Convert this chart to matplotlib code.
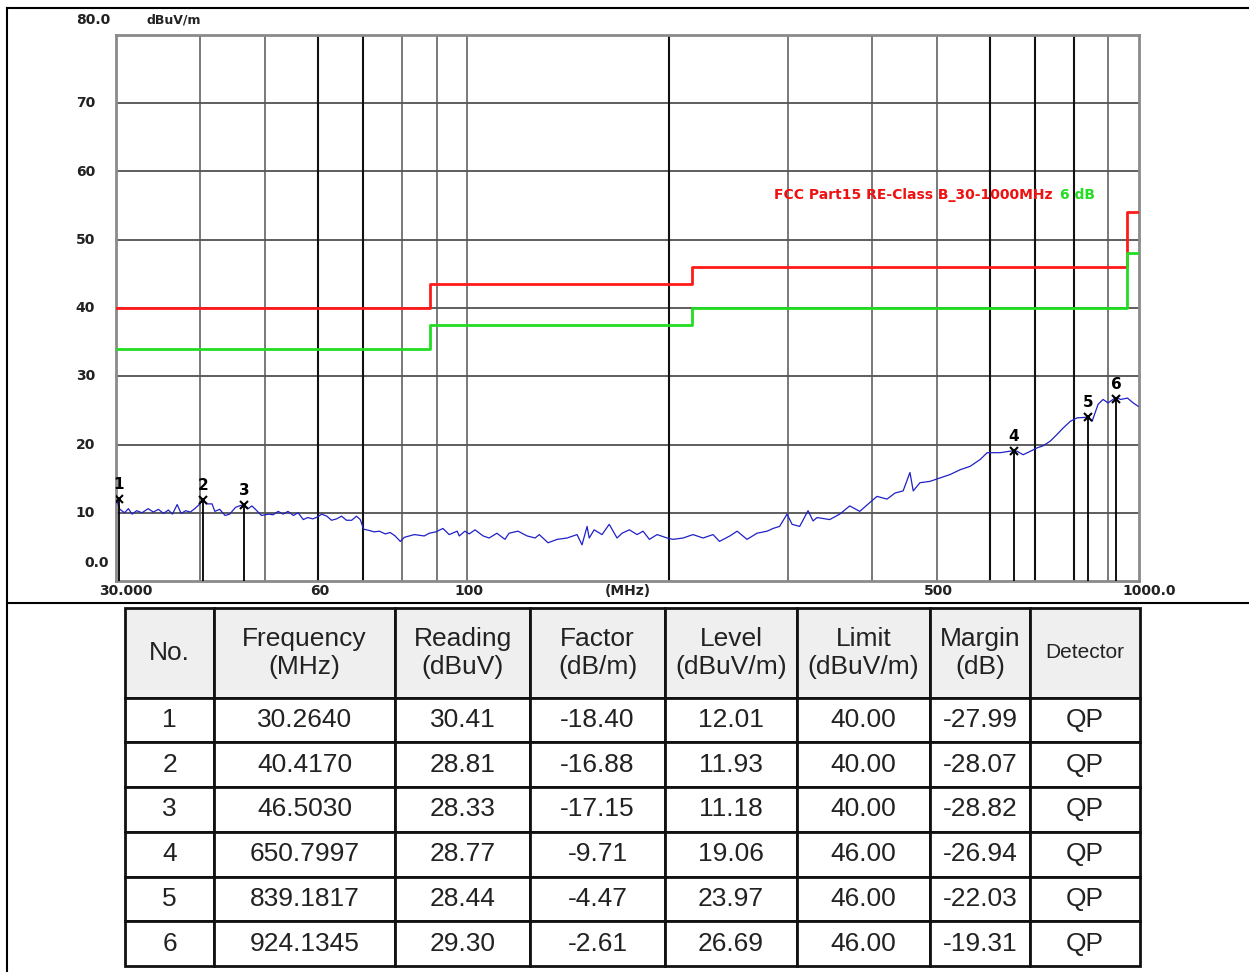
import numpy as np
import matplotlib.pyplot as plt
from matplotlib.lines import Line2D

# limit lines: FCC Part15 class B QP limit and the -6 dB line
limit_freq = [30, 88, 88, 216, 216, 960, 960, 1000]
limit_qp = [40, 40, 43.5, 43.5, 46, 46, 54, 54]
limit_margin = [34, 34, 37.5, 37.5, 40, 40, 48, 48]

# scan trace (MHz, dBuV/m)
trace_freq = [30.1, 30.4, 30.9, 31.3, 31.7, 32.2, 32.8, 33.5, 34.1, 34.7, 35.3, 35.9, 36.4, 37.0, 37.5,
              38.1, 38.7, 39.3, 39.9, 40.4, 40.9, 41.7, 42.1, 42.8, 43.6, 44.3, 45.2, 45.8, 46.5, 47.2,
              47.8, 48.5, 49.4, 50.6, 51.4, 52.3, 53.2, 54.1, 55.1, 56.0, 57.0, 57.9, 58.9, 59.9, 60.7,
              61.8, 62.8, 63.9, 65.0, 66.1, 67.3, 68.4, 69.3, 70.1, 71.5, 72.7, 74.0, 75.5, 76.8, 78.1,
              79.5, 80.6, 82.0, 83.4, 84.8, 86.3, 87.8, 89.8, 92.0, 94.0, 96.6, 97.3, 99.2, 100.7, 102.7,
              105.6, 107.8, 110.7, 113.8, 115.4, 119.0, 122.8, 126.2, 128.0, 131.9, 136.1, 140.8, 145.7,
              148.2, 150.8, 151.9, 154.5, 158.7, 162.7, 167.1, 170.0, 174.3, 179.0, 182.7, 186.7, 191.7,
              198.4, 202.5, 209.6, 216.8, 224.4, 232.2, 237.4, 246.0, 252.2, 260.9, 270.0, 279.5, 285.3,
              291.7, 299.3, 304.5, 312.5, 321.6, 327.2, 331.7, 346.4, 358.5, 371.0, 384.0, 397.5, 407.4,
              421.6, 433.5, 445.5, 456.1, 461.2, 472.0, 488.5, 505.6, 523.3, 541.6, 560.5, 580.1, 594.3,
              606.4, 621.4, 650.8, 658.6, 672.1, 688.9, 705.0, 719.7, 737.9, 755.4, 770.8, 790.4, 808.9,
              839.2, 851.5, 869.2, 884.2, 899.5, 924.1, 938.7, 961.2, 980.2, 997.0]
trace_level = [11.8, 10.5, 10.0, 10.6, 9.8, 10.3, 10.0, 10.6, 10.1, 10.5, 9.9, 10.4, 9.8, 11.2, 9.9,
               10.3, 10.1, 10.6, 11.2, 11.9, 11.3, 11.3, 10.2, 10.5, 9.6, 9.8, 10.8, 11.0, 11.2, 10.6,
               11.0, 10.4, 9.6, 9.8, 9.7, 10.2, 9.8, 10.2, 9.6, 10.0, 9.0, 9.3, 9.1, 9.4, 9.8,
               9.5, 8.9, 9.1, 9.5, 8.9, 8.9, 9.5, 9.0, 7.6, 7.4, 7.2, 7.3, 6.9, 7.1, 6.6,
               5.8, 6.4, 6.6, 6.8, 6.7, 6.6, 7.0, 7.2, 7.7, 6.8, 7.3, 6.6, 7.3, 6.9, 7.5,
               6.6, 6.3, 7.0, 6.1, 7.0, 7.3, 6.6, 6.3, 6.8, 5.6, 6.1, 6.3, 6.8,
               5.3, 8.0, 6.3, 7.5, 6.8, 8.3, 6.3, 7.0, 7.5, 6.8, 7.3, 6.1, 6.8,
               6.3, 6.1, 6.3, 6.8, 6.3, 6.8, 5.8, 6.6, 7.3, 6.1, 7.0, 7.3, 7.7,
               8.0, 9.8, 8.3, 8.0, 10.3, 8.8, 9.3, 9.0, 9.8, 11.0, 10.2, 11.5, 12.4,
               12.0, 12.9, 13.2, 15.9, 13.2, 14.4, 14.6, 15.1, 15.6, 16.3, 16.8, 17.8, 18.8,
               18.8, 18.8, 19.1, 19.0, 18.5, 19.0, 19.5, 19.8, 20.5, 21.5, 22.4, 23.4, 23.9,
               24.0, 23.4, 25.9, 26.6, 26.1, 26.9, 26.6, 26.8, 26.1, 25.6]

# final QP measurements
mk_no = [1, 2, 3, 4, 5, 6]
mk_freq = [30.2640, 40.4170, 46.5030, 650.7997, 839.1817, 924.1345]
mk_reading = [30.41, 28.81, 28.33, 28.77, 28.44, 29.30]
mk_factor = [-18.40, -16.88, -17.15, -9.71, -4.47, -2.61]
mk_level = [12.01, 11.93, 11.18, 19.06, 23.97, 26.69]
mk_limit = [40.00, 40.00, 40.00, 46.00, 46.00, 46.00]
mk_margin = [-27.99, -28.07, -28.82, -26.94, -22.03, -19.31]
mk_det = ['QP'] * 6

grid_y = [10, 20, 30, 40, 50, 60, 70]
grid_x_light = [40, 50, 80, 90, 100, 300, 400, 500, 900]
grid_x_dark = [60, 70, 200, 600, 700, 800]

W, H = 1249, 972
fig = plt.figure(figsize=(W / 100, H / 100), dpi=100)
lbl_font = ['Liberation Sans Narrow', 'DejaVu Sans']

ax = fig.add_axes([116 / W, 1 - 581 / H, (1139 - 116) / W, (581 - 35) / H])
ax.set_xscale('log')
ax.set_xlim(30, 1000)
ax.set_ylim(0, 80)
ax.set_xticks([])
ax.set_yticks([])
ax.minorticks_off()
for s in ax.spines.values():
    s.set_color('#8a8a8a')
    s.set_linewidth(2)

for y in grid_y:
    ax.axhline(y, color='#333333', lw=1.1, zorder=1)
for x in grid_x_light:
    ax.axvline(x, color='#555555', lw=1.1, zorder=1)
for x in grid_x_dark:
    ax.axvline(x, color='#111111', lw=1.5, zorder=1)

ax.plot(limit_freq, limit_qp, color='#ff1a1a', lw=2, zorder=3)
ax.plot(limit_freq, limit_margin, color='#22dd22', lw=2, zorder=3)
ax.plot(trace_freq, trace_level, color='#2020c8', lw=0.9, zorder=4)

ax.vlines(mk_freq, 0, mk_level, color='black', lw=1.3, zorder=5)
ax.plot(mk_freq, mk_level, 'x', color='black', ms=6, mew=1.5, zorder=6)
for n, f, lv in zip(mk_no, mk_freq, mk_level):
    ax.annotate(str(n), (f, lv), xytext=(0, 5), textcoords='offset points', ha='center',
                va='bottom', fontsize=11, fontweight='bold', family=lbl_font)

ax.text(0.643, 0.707, 'FCC Part15 RE-Class B_30-1000MHz', transform=ax.transAxes, color='#ee1111',
        fontsize=10, fontweight='bold', family=lbl_font, va='center')
ax.text(0.957, 0.707, '6 dB', transform=ax.transAxes, color='#22dd22',
        fontsize=10, fontweight='bold', family=lbl_font, va='center', ha='right')

# y labels
ylab = {80: '80.0', 70: '70', 60: '60', 50: '50', 40: '40', 30: '30', 20: '20', 10: '10'}
tr = ax.get_yaxis_transform()
for v, s in ylab.items():
    dy = 11 if v == 80 else 0
    ax.annotate(s, (0, v), xycoords=tr, xytext=(-29, dy), textcoords='offset points',
                ha='left', va='center', fontsize=10, fontweight='bold', family=lbl_font, color='#222222')
ax.annotate('0.0', (0, 0), xycoords=tr, xytext=(-5, 13), textcoords='offset points',
            ha='right', va='center', fontsize=10, fontweight='bold', family=lbl_font, color='#222222')
ax.annotate('dBuV/m', (0, 80), xycoords=tr, xytext=(22, 11), textcoords='offset points',
            ha='left', va='center', fontsize=9, fontweight='bold', family=lbl_font, color='#222222')

# x labels
xlab = {30: '30.000', 60: '60', 100: '100', 500: '500', 1000: '1000.0'}
xtr = ax.get_xaxis_transform()
for v, s in xlab.items():
    dx = 7 if v in (30, 1000) else 1
    ax.annotate(s, (v, 0), xycoords=xtr, xytext=(dx, -7), textcoords='offset points',
                ha='center', va='center', fontsize=10, fontweight='bold', family=lbl_font, color='#222222')
ax.annotate('(MHz)', (0.5, 0), xycoords='axes fraction', xytext=(0, -7), textcoords='offset points',
            ha='center', va='center', fontsize=10, fontweight='bold', family=lbl_font, color='#222222')

# outer frame lines
for xs, ys in [([7, W], [8, 8]), ([7, 7], [8, H]), ([7, W], [603, 603])]:
    fig.add_artist(Line2D([x / W for x in xs], [1 - y / H for y in ys], color='black', lw=1.5))

# result table
header = ['No.', 'Frequency\n(MHz)', 'Reading\n(dBuV)', 'Factor\n(dB/m)', 'Level\n(dBuV/m)',
          'Limit\n(dBuV/m)', 'Margin\n(dB)', 'Detector']
rows = []
for i in range(len(mk_no)):
    rows.append([str(mk_no[i]), f'{mk_freq[i]:.4f}', f'{mk_reading[i]:.2f}', f'{mk_factor[i]:.2f}',
                 f'{mk_level[i]:.2f}', f'{mk_limit[i]:.2f}', f'{mk_margin[i]:.2f}', mk_det[i]])
col_w = [89, 181, 135, 135, 132, 133, 100, 110]

tax = fig.add_axes([125 / W, 1 - 966 / H, (1140 - 125) / W, (966 - 608) / H])
tax.axis('off')
tbl = tax.table(cellText=rows, colLabels=header, colWidths=[c / sum(col_w) for c in col_w],
                cellLoc='center', bbox=[0, 0, 1, 1])
tbl.auto_set_font_size(False)
for (r, c), cell in tbl.get_celld().items():
    cell.set_edgecolor('#111111')
    cell.set_linewidth(2)
    cell.get_text().set_family(['Liberation Sans', 'DejaVu Sans'])
    cell.get_text().set_color('#222222')
    cell.get_text().set_fontsize(19)
    if r == 0:
        cell.set_height(2.0)
        cell.set_facecolor('#efefef')
        if c == 7:
            cell.get_text().set_fontsize(15)
    else:
        cell.set_height(1.0)
        cell.set_facecolor('white')

fig.savefig('out.png', dpi=100)
